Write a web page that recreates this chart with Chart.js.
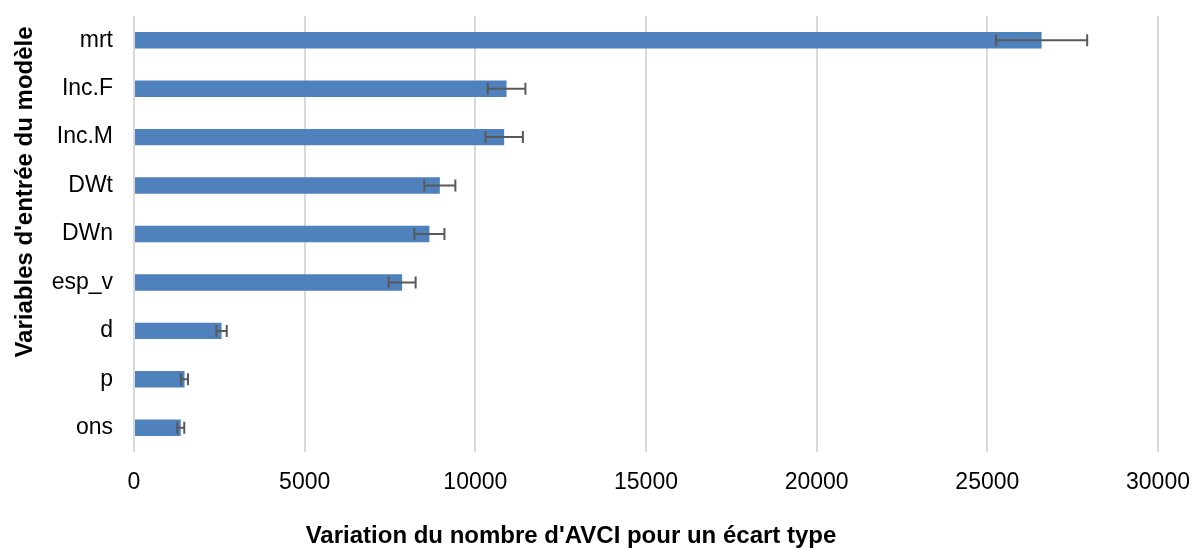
<!DOCTYPE html>
<html>
<head>
<meta charset="utf-8">
<script src="https://cdn.jsdelivr.net/npm/chart.js@4"></script>
<style>
    body { margin: 0; background: #fff; }
    #wrap { width: 1195px; height: 549px; position: relative; }
</style>
</head>
<body>
<div id="wrap"><canvas id="myChart"></canvas></div>
<script>
let variables = ["mrt", "Inc.F", "Inc.M", "DWt", "DWn", "esp_v", "d", "p", "ons"];
let variation = [26590, 10915, 10845, 8960, 8655, 7855, 2565, 1480, 1370];
let ecart = [1335, 552, 548, 455, 440, 396, 152, 103, 103];
let x_ticks = [0, 5000, 10000, 15000, 20000, 25000, 30000];

let titre_x = "Variation du nombre d'AVCI pour un écart type";
let titre_y = "Variables d'entrée du modèle";

const police = "'Liberation Sans', Arial, sans-serif";

// barres d'erreur dessinées avec les échelles du graphique
let plugin_erreurs = {
    id: 'erreurs',
    afterDatasetsDraw(chart) {
        let ctx = chart.ctx;
        let sx = chart.scales.x;
        let sy = chart.scales.y;
        ctx.save();
        ctx.strokeStyle = '#595959';
        ctx.lineWidth = 2;
        variation.forEach((v, i) => {
            let y = sy.getPixelForValue(i);
            let x1 = sx.getPixelForValue(v - ecart[i]);
            let x2 = sx.getPixelForValue(v + ecart[i]);
            ctx.beginPath();
            ctx.moveTo(x1, y);
            ctx.lineTo(x2, y);
            ctx.moveTo(x1, y - 6);
            ctx.lineTo(x1, y + 6);
            ctx.moveTo(x2, y - 6);
            ctx.lineTo(x2, y + 6);
            ctx.stroke();
        });
        ctx.restore();
    },
    afterDraw(chart) {
        let ctx = chart.ctx;
        ctx.save();
        ctx.fillStyle = '#000';
        ctx.font = "bold 24px " + police;
        ctx.textAlign = 'center';
        ctx.textBaseline = 'middle';
        ctx.fillText(titre_x, 571, 536);
        ctx.translate(25, 192);
        ctx.rotate(-Math.PI / 2);
        ctx.fillText(titre_y, 0, 0);
        ctx.restore();
    }
};

function sans_marges(s) {
    s.paddingTop = 0;
    s.paddingBottom = 0;
    s.paddingLeft = 0;
    s.paddingRight = 0;
}

let my_chart = new Chart(document.getElementById('myChart'), {
    type: 'bar',
    data: {
        labels: variables,
        datasets: [{
            data: variation,
            backgroundColor: '#4f81bd',
            barPercentage: 0.34,
            categoryPercentage: 1
        }]
    },
    options: {
        indexAxis: 'y',
        responsive: true,
        maintainAspectRatio: false,
        animation: false,
        layout: { padding: { top: 16, right: 37, left: 0, bottom: 0 } },
        plugins: {
            legend: { display: false },
            tooltip: { enabled: false }
        },
        scales: {
            x: {
                min: 0,
                max: 30000,
                afterFit: (s) => { s.height = 97; sans_marges(s); },
                afterBuildTicks: (s) => { s.ticks = x_ticks.map(v => ({ value: v })); },
                grid: { color: '#d9d9d9', lineWidth: 2, drawTicks: false },
                border: { display: false },
                ticks: {
                    padding: 17,
                    color: '#000',
                    font: { family: police, size: 23 },
                    callback: (v) => String(v)
                }
            },
            y: {
                afterFit: (s) => { s.width = 134; sans_marges(s); },
                grid: { display: false, drawTicks: false },
                border: { display: false },
                ticks: {
                    padding: 21,
                    color: '#000',
                    font: { family: police, size: 23 }
                }
            }
        }
    },
    plugins: [plugin_erreurs]
});
</script>
</body>
</html>
